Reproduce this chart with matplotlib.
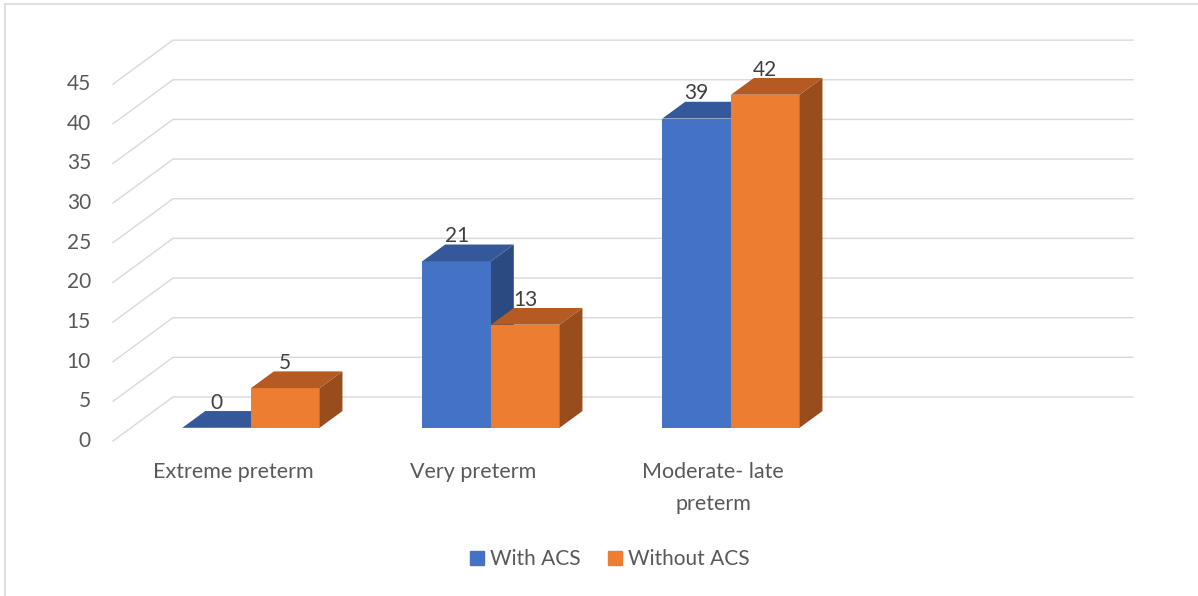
import matplotlib.pyplot as plt
from matplotlib.patches import Polygon, Patch
from matplotlib.lines import Line2D

##############
# PARAMETERS #
##############

categories = ["Extreme preterm", "Very preterm", "Moderate- late\npreterm", ""]
with_acs = [0, 21, 39]
without_acs = [5, 13, 42]
series_names = ["With ACS", "Without ACS"]
y_ticks = [0, 5, 10, 15, 20, 25, 30, 35, 40, 45]

# colours: front, top, side
blue = ("#4472C4", "#34589A", "#2C4A82")
orange = ("#ED7D31", "#B45A22", "#984D1D")
grid_col = "#D9D9D9"

# oblique depth of the floor (category units, value units)
depth_x = 0.25
depth_y = 5.55
# bars sit between these depth fractions
d_front = 0.30
d_back = 0.68
bar_w = 0.286

plt.rcParams['font.family'] = ['Lato', 'DejaVu Sans']

fig = plt.figure(figsize=(11.98, 5.96), dpi=100)
ax = fig.add_axes([0, 0, 1, 1])
ax.set_xlim(-0.9708, 4.0208)
ax.set_ylim(-19.55, 55.61)
ax.axis('off')

########
# GRID #
########

x_left = -0.5
x_right = len(categories) - 0.5
for v in y_ticks:
    # side wall diagonal then back wall line
    ax.plot([x_left, x_left + depth_x, x_right + depth_x],
            [v, v + depth_y, v + depth_y], color=grid_col, lw=1.0, zorder=1)
    ax.text(x_left - 0.092, v, str(v), ha='right', va='center',
            fontsize=15, color="#595959")

########
# BARS #
########

def draw_bar(x0, x1, v, cols):
    sx, sy = d_front * depth_x, d_front * depth_y
    bx, by = d_back * depth_x, d_back * depth_y
    front = [(x0 + sx, sy), (x1 + sx, sy), (x1 + sx, v + sy), (x0 + sx, v + sy)]
    top = [(x0 + sx, v + sy), (x1 + sx, v + sy), (x1 + bx, v + by), (x0 + bx, v + by)]
    side = [(x1 + sx, sy), (x1 + bx, by), (x1 + bx, v + by), (x1 + sx, v + sy)]
    if v > 0:
        ax.add_patch(Polygon(front, closed=True, fc=cols[0], ec='none', zorder=3))
        ax.add_patch(Polygon(side, closed=True, fc=cols[2], ec='none', zorder=3))
    ax.add_patch(Polygon(top, closed=True, fc=cols[1], ec='none', zorder=3))
    # value label above the bar
    ax.text((x0 + x1) / 2 + sx, v + by + 1.05, str(v), ha='center', va='center',
            fontsize=15, color="#404040", zorder=5)

for i in range(len(with_acs)):
    draw_bar(i - bar_w, i, with_acs[i], blue)
    draw_bar(i, i + bar_w, without_acs[i], orange)

# category labels on the front edge of the floor
for i, name in enumerate(categories):
    if name:
        ax.text(i, -2.65, name, ha='center', va='top', fontsize=15.5,
                color="#595959", linespacing=1.72)

##########
# LEGEND #
##########

handles = [Patch(color=blue[0]), Patch(color=orange[0])]
leg = fig.legend(handles, series_names, loc='center', bbox_to_anchor=(0.509, 0.062),
                 ncol=2, frameon=False, fontsize=15, handlelength=0.68,
                 handleheight=0.68, handletextpad=0.3, columnspacing=1.3)
for t in leg.get_texts():
    t.set_color("#595959")

# chart border
fig.add_artist(Line2D([5 / 1198, 5 / 1198], [0, 1 - 4 / 596], color=grid_col, lw=1.2))
fig.add_artist(Line2D([5 / 1198, 1], [1 - 4 / 596, 1 - 4 / 596], color=grid_col, lw=1.2))

plt.savefig('out.png', dpi=100)
